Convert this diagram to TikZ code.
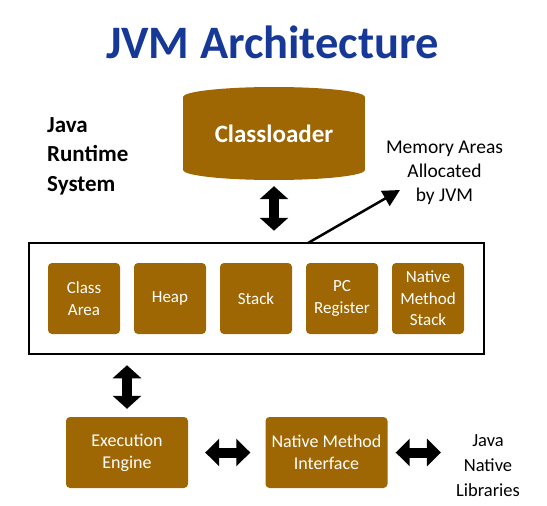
\documentclass[tikz,border=0pt]{standalone}
\usepackage{fontspec}
\setmainfont{Carlito}
\usetikzlibrary{arrows.meta,calc}
\definecolor{jvmbrown}{RGB}{158,103,3}
\definecolor{jvmblue}{RGB}{22,56,150}
\tikzset{
  membox/.style={fill=jvmbrown, rounded corners=4pt, minimum width=72pt, minimum height=71pt,
    text=white, align=center, inner sep=0pt, font=\fontsize{17pt}{21.5pt}\selectfont},
  bigbox/.style={fill=jvmbrown, rounded corners=4pt, minimum width=122pt, minimum height=71pt,
    text=white, align=center, inner sep=0pt, font=\fontsize{18pt}{22pt}\selectfont},
  plain/.style={align=center, inner sep=0pt, font=\fontsize{18.5pt}{25pt}\selectfont},
  vdbl/.style={line width=10pt, {Triangle[width=28pt,length=13pt]}-{Triangle[width=28pt,length=13pt]}},
  hdbl/.style={line width=10pt, {Triangle[width=27pt,length=14pt]}-{Triangle[width=27pt,length=14pt]}},
}
\begin{document}
\begin{tikzpicture}[x=1pt,y=-1pt]
\useasboundingbox (0,0) rectangle (547,506);
% title
\node[font=\fontsize{46.5pt}{50pt}\selectfont\bfseries, text=jvmblue, anchor=base] (title) at (272.5,58) {JVM Architecture};
% classloader cylinder
\fill[jvmbrown] (183,97) rectangle (365,170);
\fill[jvmbrown] (274,97) ellipse [x radius=91pt, y radius=10pt];
\fill[jvmbrown] (274,170) ellipse [x radius=91pt, y radius=10pt];
\node[minimum width=182pt, minimum height=93pt, inner sep=0pt, text=white,
  font=\fontsize{25pt}{30pt}\selectfont\bfseries] (cyl) at (274,133.5) {Classloader};
% Java Runtime System
\node[anchor=base west, align=left, inner sep=0pt, font=\fontsize{23pt}{29.5pt}\selectfont\bfseries] (jrs) at (47,191) {Java\\Runtime\\System};
% Memory areas label
\node[plain, anchor=base, font=\fontsize{19.5pt}{24pt}\selectfont] (mem) at (444.5,201) {Memory Areas\\Allocated\\by JVM};
% runtime data area box
\node[draw=black, line width=2.5pt, minimum width=455pt, minimum height=111pt, inner sep=0pt] (big) at (256.5,298.5) {};
\node[membox] (ca) at (84,298.5) {Class\\Area};
\node[membox] (heap) at (170,298.5) {Heap};
\node[membox] (stack) at (256,298.5) {Stack};
\node[membox] (pc) at (342,298.5) {PC\\Register};
\node[membox] (nms) at (428,298.5) {Native\\Method\\Stack};
% bottom row
\node[bigbox] (exec) at (127,452.5) {Execution\\Engine};
\node[bigbox] (nmi) at (326.5,452.5) {Native Method\\Interface};
\node[plain, anchor=base] (libs) at (488,496) {Java\\Native\\Libraries};
% connectors
\draw[vdbl, shorten <=6pt, shorten >=11pt] (cyl.south) -- (cyl.south |- big.north);
\draw[vdbl, shorten <=10pt, shorten >=8pt] (exec.north |- big.south) -- (exec.north);
\draw[hdbl, shorten <=17pt, shorten >=15pt] (exec.east) -- (nmi.west);
\draw[hdbl, shorten <=8pt, shorten >=15pt] (nmi.east) -- (nmi.east -| libs.west);
\coordinate (d0) at (308,243);
\coordinate (d1) at (400,190);
\draw[line width=2.5pt, -{Triangle[width=17pt,length=17pt]}] (d0) -- (d1);
\end{tikzpicture}
\end{document}
